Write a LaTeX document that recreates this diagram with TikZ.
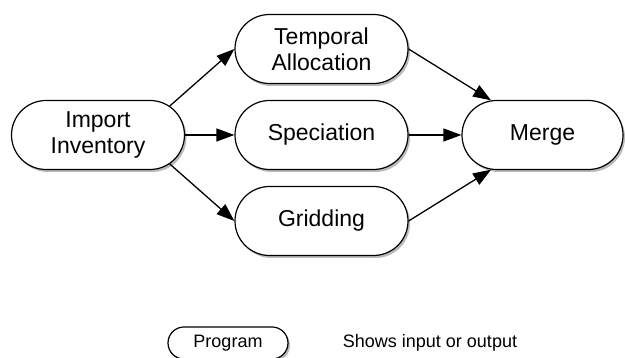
\documentclass[tikz,border=0pt]{standalone}
\usepackage{fontspec}
\setmainfont{Liberation Sans}
\usetikzlibrary{shapes.misc,shadows,arrows.meta}

\begin{document}
\begin{tikzpicture}[x=1pt, y=1pt,
		prog/.style={rounded rectangle, draw, line width=1.2pt, fill=white, minimum width=173pt, minimum height=69pt, inner sep=0pt, align=center, font=\fontsize{23}{26}\selectfont, drop shadow={shadow xshift=2pt, shadow yshift=-2.5pt, fill=black!60, opacity=0.45}},
		flow/.style={line width=1.3pt, -{Triangle[length=18pt, width=13pt]}}]
		%%%%% START %%%%%
		
		\useasboundingbox (0, 0) rectangle (625, 358);
		
		\node[prog] (import) at (98, 223) {Import\\Inventory};
		
		\node[prog] (temporal) at (321.5, 309) {Temporal\\Allocation};
		\node[prog] (speciation) at (321.5, 223) {Speciation};
		\node[prog] (gridding) at (321.5, 137) {Gridding};
		
		\node[prog, minimum width=161pt] (merge) at (542.5, 223) {Merge};
		
		\draw[flow] (import.22) -- (temporal.west);
		\draw[flow] (import.east) -- (speciation.west);
		\draw[flow] (import.-22) -- (gridding.west);
		
		\draw[flow] (temporal.east) -- (merge.146);
		\draw[flow] (speciation.east) -- (merge.west);
		\draw[flow] (gridding.east) -- (merge.214);
		
		% legend
		\node[prog, minimum width=120pt, minimum height=32pt, font=\fontsize{18}{22}\selectfont] (program) at (228, 15) {Program};
		\node[font=\fontsize{18}{22}\selectfont] (io) at (430, 15) {Shows input or output};
		
		%%%%% END %%%%%
	\end{tikzpicture}
\end{document}
